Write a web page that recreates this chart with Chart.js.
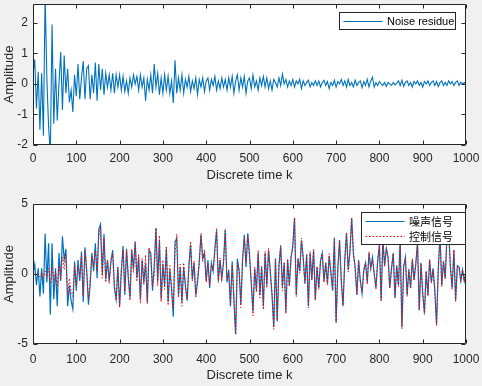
<!DOCTYPE html>
<html><head><meta charset="utf-8">
<script src="https://cdn.jsdelivr.net/npm/chart.js@4/dist/chart.umd.min.js"></script>
<style>
html,body{margin:0;padding:0;background:#f0f0f0;}
#wrap{position:relative;width:482px;height:386px;background:#f0f0f0;overflow:hidden;}
.box{position:absolute;left:0;width:482px;height:193px;}
</style></head><body>
<div id="wrap">
<div class="box" style="top:0"><canvas id="c1" width="482" height="193"></canvas></div>
<div class="box" style="top:193px"><canvas id="c2" width="482" height="193"></canvas></div>
</div>
<script>
// ---- data ----
const kStep = 4; // discrete time step between stored samples
const xTicks = [0,100,200,300,400,500,600,700,800,900,1000];
const topYTicks = [-2,-1,0,1,2];
const bottomYTicks = [-5,0,5];
const topSeriesNames = ['Noise residue'];
const bottomSeriesNames = ['噪声信号','控制信号'];
const xTitle = 'Discrete time k';
const yTitle = 'Amplitude';

const residue = [
0.3,0.8,-0.8,0.4,-1.5,0.35,-1.7,2.9,0.2,-1.4,
-2.3,1.95,-1.3,0.5,-1.2,0.0,1.05,-0.85,0.93,-0.3,
0.5,-0.6,-0.2,-0.92,0.3,-0.4,0.65,-0.5,0.2,0.75,
-0.5,0.5,0.6,-0.5,0.3,-0.3,0.7,-0.55,0.65,-0.2,
0.5,-0.35,0.35,-0.1,0.3,-0.2,0.35,-0.3,0.3,-0.1,
0.3,-0.2,0.25,-0.25,0.1,-0.3,0.2,-0.1,0.3,0.0,
0.25,-0.2,0.3,-0.1,0.2,-0.55,0.15,-0.2,0.3,-0.3,
0.65,-0.1,0.35,-0.35,0.2,-0.3,0.3,-0.2,0.25,-0.3,
0.1,-0.62,0.78,-0.3,0.2,-0.2,0.3,-0.3,0.15,-0.1,
0.25,-0.25,0.1,-0.15,0.2,-0.35,0.15,-0.1,0.2,-0.25,
0.1,0.2,-0.2,0.15,-0.05,0.25,-0.2,0.1,-0.15,0.2,
-0.1,0.15,-0.2,0.2,-0.1,0.25,-0.3,0.1,0.3,-0.2,
0.2,-0.1,0.25,-0.3,0.1,0.2,-0.15,0.3,-0.1,0.1,
-0.2,0.2,-0.05,0.25,-0.1,0.2,-0.15,0.1,-0.2,0.15,
0.05,-0.1,0.2,-0.05,0.32,0.0,0.15,-0.1,0.1,-0.05,
0.15,-0.1,0.1,0.0,0.15,-0.15,0.1,-0.05,0.05,0.12,
-0.1,0.05,-0.05,0.1,-0.05,0.1,-0.1,0.05,0.12,-0.05,
0.08,-0.15,0.05,-0.05,0.12,-0.1,0.08,0.0,0.15,-0.05,
0.1,-0.1,0.15,-0.05,0.05,-0.1,0.12,-0.05,0.05,0.1,
-0.12,0.08,-0.05,0.15,-0.1,0.1,0.22,-0.1,0.05,-0.05,
0.08,0.0,-0.05,0.05,-0.08,0.05,0.0,-0.05,0.05,-0.03,
0.03,0.1,-0.05,0.12,-0.08,0.05,0.1,-0.05,0.05,-0.1,
0.08,0.0,0.1,-0.05,0.05,-0.1,0.08,0.0,0.1,-0.05,
0.05,0.1,-0.05,0.08,-0.08,0.05,0.1,-0.05,0.05,-0.05,
0.1,0.0,0.08,-0.05,0.05,0.1,-0.05,0.05,0.0,0.05,-0.02
];

const noiseSignal = [
0.0,0.7,-0.8,0.4,-1.6,0.4,-1.4,2.9,-0.6,2.2,
-2.9,2.2,-1.8,0.4,-2.3,1.5,-0.5,2.7,1.0,1.8,
-2.3,-0.8,-1.9,-2.5,0.9,-1.2,1.0,-0.5,1.6,-2.0,
1.9,0.3,-2.2,-0.8,1.5,0.2,2.2,-0.3,3.2,3.55,
0.0,2.85,-0.4,1.0,-0.5,0.9,1.7,-1.0,-1.8,0.5,
-2.3,0.2,2.0,-1.5,1.8,-0.3,-1.7,1.7,0.4,2.3,
-0.3,1.2,-1.8,1.0,-0.6,0.8,-2.0,1.7,1.5,-1.2,
0.6,3.26,-0.5,2.4,-1.8,0.7,-0.8,1.8,-2.0,0.3,
-1.0,-3.05,2.3,2.55,-1.5,0.5,-2.0,0.5,-0.8,-1.9,
0.6,2.1,-0.4,0.8,-1.5,-0.6,0.9,2.8,1.1,1.5,
-0.5,1.0,-1.0,0.8,0.2,1.8,3.1,-0.5,1.0,-0.3,
0.8,3.2,-0.6,0.3,-2.3,0.9,-1.9,-4.3,1.1,0.2,
-2.2,1.0,2.8,0.5,2.9,1.4,-0.6,-2.7,0.4,-1.2,
1.5,-1.5,0.5,-2.3,1.5,-0.8,1.7,0.2,-1.5,-3.8,
1.1,-3.4,0.6,2.0,-0.9,0.8,-2.7,1.0,-0.8,1.2,
2.0,4.0,-1.5,1.1,0.2,2.4,1.2,-0.7,1.4,-2.3,
1.5,-0.4,1.7,-1.8,0.5,-1.0,0.9,1.5,-0.5,0.8,
-0.7,1.3,0.1,-1.2,2.6,-3.5,0.4,2.4,-0.5,-2.3,
1.0,2.9,0.3,1.6,4.0,1.4,0.5,-1.5,1.0,-0.5,
-1.4,0.3,0.8,-0.6,1.5,0.4,1.2,0.0,-1.0,0.9,
2.1,-1.9,2.5,0.6,1.8,1.2,-1.0,0.4,1.5,-1.7,
0.6,-0.8,2.4,-3.8,0.5,1.2,-1.5,0.3,-1.0,1.0,
-0.4,0.7,2.3,-2.6,0.8,-1.4,-2.8,0.2,-1.5,1.0,
-0.6,0.4,-1.2,-3.6,0.3,2.8,-0.8,0.9,-0.3,2.7,
3.0,0.5,-1.0,1.7,-1.9,0.6,0.5,-0.5,0.3,-0.5,0.2
];

const controlSignal = [
0.0,0.1,-0.1,0.0,-0.2,0.1,-0.3,0.2,-0.2,0.4,
-0.7,0.5,-0.5,0.2,-0.9,0.6,-0.4,1.2,0.3,1.4,
-1.5,-0.3,-1.2,-1.6,0.7,-0.9,0.5,-0.2,1.3,-1.6,
1.7,0.0,-1.8,-0.4,1.3,0.5,1.7,0.2,2.7,3.4,
-0.3,2.6,-0.6,1.0,-0.7,1.0,1.4,-0.8,-1.9,0.5,
-2.4,0.4,1.75,-1.25,1.7,0.0,-1.9,1.8,0.1,2.3,
-0.55,1.4,-2.1,1.1,-0.8,1.35,-2.15,1.9,1.2,-0.9,
-0.05,3.3,-0.85,2.75,-2.0,1.0,-1.1,2.0,-2.25,0.6,
-1.1,-2.43,1.52,2.85,-1.7,0.7,-2.3,0.8,-0.95,-1.8,
0.35,2.35,-0.5,0.95,-1.7,-0.25,0.75,2.9,0.9,1.75,
-0.6,0.8,-0.8,0.65,0.25,1.55,3.3,-0.6,1.15,-0.5,
0.9,3.05,-0.4,0.1,-2.2,0.65,-1.6,-4.35,0.8,0.4,
-2.4,1.1,2.55,0.8,2.8,1.2,-0.45,-3.0,0.5,-1.3,
1.7,-1.7,0.55,-2.55,1.6,-1.0,1.85,0.1,-1.3,-3.95,
1.05,-3.3,0.4,2.05,-1.22,0.8,-2.85,1.1,-0.9,1.25,
1.85,4.05,-1.6,1.1,0.05,2.55,1.1,-0.65,1.35,-2.42,
1.6,-0.45,1.75,-1.9,0.55,-1.1,1.0,1.45,-0.62,0.85,
-0.78,1.45,0.05,-1.15,2.48,-3.4,0.32,2.4,-0.65,-2.25,
0.9,3.0,0.15,1.65,3.95,1.5,0.38,-1.45,0.95,-0.6,
-1.28,0.22,0.85,-0.75,1.6,0.3,0.98,0.1,-1.05,0.95,
2.02,-1.9,2.55,0.55,1.88,1.15,-1.0,0.45,1.45,-1.67,
0.57,-0.9,2.45,-3.92,0.58,1.15,-1.6,0.35,-1.05,1.1,
-0.48,0.7,2.2,-2.55,0.75,-1.3,-2.88,0.2,-1.6,1.05,
-0.65,0.3,-1.15,-3.68,0.38,2.75,-0.9,0.95,-0.35,2.75,
2.9,0.5,-1.08,1.75,-1.95,0.5,0.55,-0.55,0.3,-0.55,0.22
];

// ---- rendering ----
const AX = '#262626';
const FONT = "'Liberation Sans', Arial, sans-serif";
const toXY = arr => arr.map((v, i) => ({x: i * kStep, y: v}));

const matlabAxes = {
  id: 'matlabAxes',
  beforeDraw(chart) {
    const {ctx, chartArea: a} = chart;
    ctx.save();
    ctx.fillStyle = '#ffffff';
    ctx.fillRect(a.left, a.top, a.right - a.left, a.bottom - a.top);
    ctx.restore();
  },
  afterDraw(chart, args, opts) {
    const {ctx, chartArea: a} = chart;
    const xs = chart.scales.x, ys = chart.scales.y;
    const L = a.left + 0.5, R = a.right - 0.5, T = a.top + 0.5, B = a.bottom - 0.5;
    ctx.save();
    ctx.strokeStyle = AX;
    ctx.lineWidth = 1;
    ctx.beginPath();
    ctx.rect(L, T, R - L, B - T);
    const tl = 4;
    xs.ticks.forEach(t => {
      const px = Math.round(xs.getPixelForValue(t.value)) + 0.5;
      ctx.moveTo(px, B); ctx.lineTo(px, B - tl);
      ctx.moveTo(px, T); ctx.lineTo(px, T + tl);
    });
    ys.ticks.forEach(t => {
      const py = Math.round(ys.getPixelForValue(t.value)) + 0.5;
      ctx.moveTo(L, py); ctx.lineTo(L + tl, py);
      ctx.moveTo(R, py); ctx.lineTo(R - tl, py);
    });
    ctx.stroke();

    // legend
    const lg = opts.legend;
    const ds = chart.data.datasets;
    const bw = lg.width, bh = 2 + 15 * ds.length;
    const bx = Math.round(a.right - lg.right - bw) + 0.5;
    const by = Math.round(a.top + lg.top) + 0.5;
    ctx.fillStyle = '#ffffff';
    ctx.fillRect(bx, by, bw, bh);
    ctx.strokeStyle = AX;
    ctx.setLineDash([]);
    ctx.strokeRect(bx, by, bw, bh);
    ds.forEach((d, i) => {
      const cy = Math.round(by + 8 + 15 * i) + 0.5;
      ctx.beginPath();
      ctx.strokeStyle = d.borderColor;
      ctx.lineWidth = 1;
      ctx.setLineDash(d.borderDash || []);
      ctx.moveTo(bx + 4, cy); ctx.lineTo(bx + 43, cy);
      ctx.stroke();
      ctx.setLineDash([]);
      ctx.fillStyle = '#000000';
      ctx.font = lg.font;
      ctx.textBaseline = 'middle';
      ctx.textAlign = 'left';
      ctx.fillText(d.label, bx + 47.5, cy + 0.5);
    });
    ctx.restore();
  }
};

function makeChart(id, datasets, yMin, yMax, yTicks, pad, xAxisH, xLabelPad, xTitlePad, legend) {
  return new Chart(document.getElementById(id), {
    type: 'line',
    data: {datasets},
    plugins: [matlabAxes],
    options: {
      responsive: false,
      animation: false,
      devicePixelRatio: 1,
      layout: {padding: pad},
      elements: {point: {radius: 0}, line: {tension: 0}},
      plugins: {legend: {display: false}, tooltip: {enabled: false}, matlabAxes: {legend}},
      scales: {
        x: {
          type: 'linear', min: 0, max: 1000,
          afterBuildTicks: s => { s.ticks = xTicks.map(v => ({value: v})); },
          afterFit: s => { s.height = xAxisH; s.paddingLeft = 0; s.paddingRight = 0; },
          grid: {display: false, drawTicks: false},
          border: {display: false},
          ticks: {autoSkip: false, maxRotation: 0, padding: xLabelPad, color: AX,
                  font: {family: FONT, size: 12}, callback: v => String(v)},
          title: {display: true, text: xTitle, color: AX, font: {family: FONT, size: 13}, padding: {top: 0, bottom: xTitlePad}}
        },
        y: {
          type: 'linear', min: yMin, max: yMax,
          afterBuildTicks: s => { s.ticks = yTicks.map(v => ({value: v})); },
          afterFit: s => { s.width = 33; s.paddingTop = 0; s.paddingBottom = 0; },
          grid: {display: false, drawTicks: false},
          border: {display: false},
          ticks: {autoSkip: false, padding: 5, color: AX, font: {family: FONT, size: 12}, callback: v => String(v)},
          title: {display: true, text: yTitle, color: AX, font: {family: FONT, size: 13}, padding: {top: 2, bottom: 0}}
        }
      }
    }
  });
}

makeChart('c1', [
  {label: topSeriesNames[0], data: toXY(residue), borderColor: '#0072BD', borderWidth: 1.1, fill: false}
], -2, 2.62, topYTicks, {top: 4, right: 16, left: 0, bottom: 0}, 48, 6, 10,
  {width: 116, right: 11, top: 8, font: "11px " + FONT});

makeChart('c2', [
  {label: bottomSeriesNames[0], data: toXY(noiseSignal), borderColor: '#0072BD', borderWidth: 1.2, fill: false, order: 2},
  {label: bottomSeriesNames[1], data: toXY(controlSignal), borderColor: '#FF0000', borderWidth: 1, borderDash: [1.5, 2], fill: false, order: 1}
], -5, 5, bottomYTicks, {top: 11, right: 16, left: 0, bottom: 0}, 42, 8, 3,
  {width: 104, right: 1, top: 8, font: "11px 'Noto Sans CJK SC', sans-serif"});
</script>
</body></html>
